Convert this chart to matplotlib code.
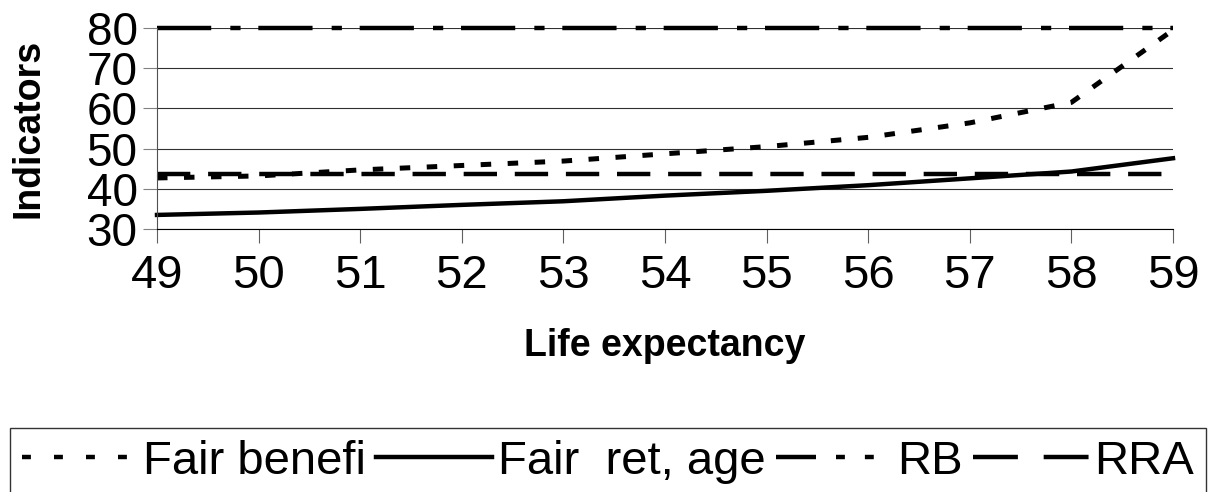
import matplotlib.pyplot as plt
from matplotlib.lines import Line2D

plt.rcParams['font.family'] = ['Liberation Sans', 'DejaVu Sans']

life_exp = [49, 50, 51, 52, 53, 54, 55, 56, 57, 58, 59]
fair_benefit = [42.7, 43.2, 44.7, 45.8, 46.9, 48.7, 50.5, 52.8, 56.4, 61.5, 79.5]
fair_ret_age = [33.5, 34.1, 35.0, 36.0, 36.9, 38.3, 39.5, 40.9, 42.6, 44.3, 47.6]
rb = [80, 80, 80, 80, 80, 80, 80, 80, 80, 80, 80]
rra = [43.6, 43.6, 43.6, 43.6, 43.6, 43.6, 43.6, 43.6, 43.6, 43.6, 43.6]
labels = ['Fair benefi', 'Fair  ret, age', 'RB', 'RRA']

W, H = 1211, 492
fig = plt.figure(figsize=(W / 100, H / 100), dpi=100)
ax = fig.add_axes([157 / W, 1 - 229 / H, (1173 - 157) / W, (229 - 28) / H])

lw = 3.2
ax.plot(life_exp, fair_benefit, color='black', lw=lw + 0.4, dashes=(2.1, 3.3),
        clip_on=False)
ax.plot(life_exp, fair_ret_age, color='black', lw=lw, clip_on=False)
ax.plot(life_exp, rb, color='black', lw=lw, dashes=(12.2, 4.3, 2.3, 4.0),
        clip_on=False)
ax.plot(life_exp, rra, color='black', lw=lw, dashes=(7.5, 4.0), clip_on=False)

ax.set_xlim(49, 59)
ax.set_ylim(30, 80)
ax.set_xticks(life_exp)
ax.set_yticks([30, 40, 50, 60, 70, 80])
ax.yaxis.grid(True, color='#303030', lw=0.8)
ax.set_axisbelow(True)

for s in ['top', 'right']:
    ax.spines[s].set_visible(False)
ax.spines['left'].set_color('#505050')
ax.spines['bottom'].set_color('black')
ax.spines['left'].set_linewidth(0.8)
ax.spines['bottom'].set_linewidth(0.8)

ax.tick_params(axis='x', direction='out', length=10, width=0.8, color='#606060',
               pad=8, labelsize=34)
ax.tick_params(axis='y', direction='out', length=10, width=0.8, color='#808080',
               pad=4, labelsize=33)

fig.text(29 / W, 1 - 128 / H, 'Indicators', rotation=90, fontsize=27,
         fontweight='bold', ha='center', va='center')
fig.text(665 / W, 1 - 346 / H, 'Life expectancy', fontsize=27,
         fontweight='bold', ha='center', va='center')

# legend keys are drawn with Excel's wider legend dash spacing
handles = [
    Line2D([], [], color='black', lw=lw, dashes=(2.0, 5.2)),
    Line2D([], [], color='black', lw=lw),
    Line2D([], [], color='black', lw=lw, dashes=(9.0, 4.5, 2.0, 4.5, 2.0, 6.0)),
    Line2D([], [], color='black', lw=lw, dashes=(10.1, 5.8)),
]
leg = fig.legend(handles, labels, loc='upper left',
                 bbox_to_anchor=(10 / W, 1 - 428 / H),
                 ncol=4, fontsize=34, frameon=True, fancybox=False,
                 edgecolor='black', handlelength=2.45, handletextpad=0.12,
                 columnspacing=0.22, borderpad=0.25, borderaxespad=0)
leg.get_frame().set_linewidth(1.0)

fig.savefig('out.png', dpi=100)
